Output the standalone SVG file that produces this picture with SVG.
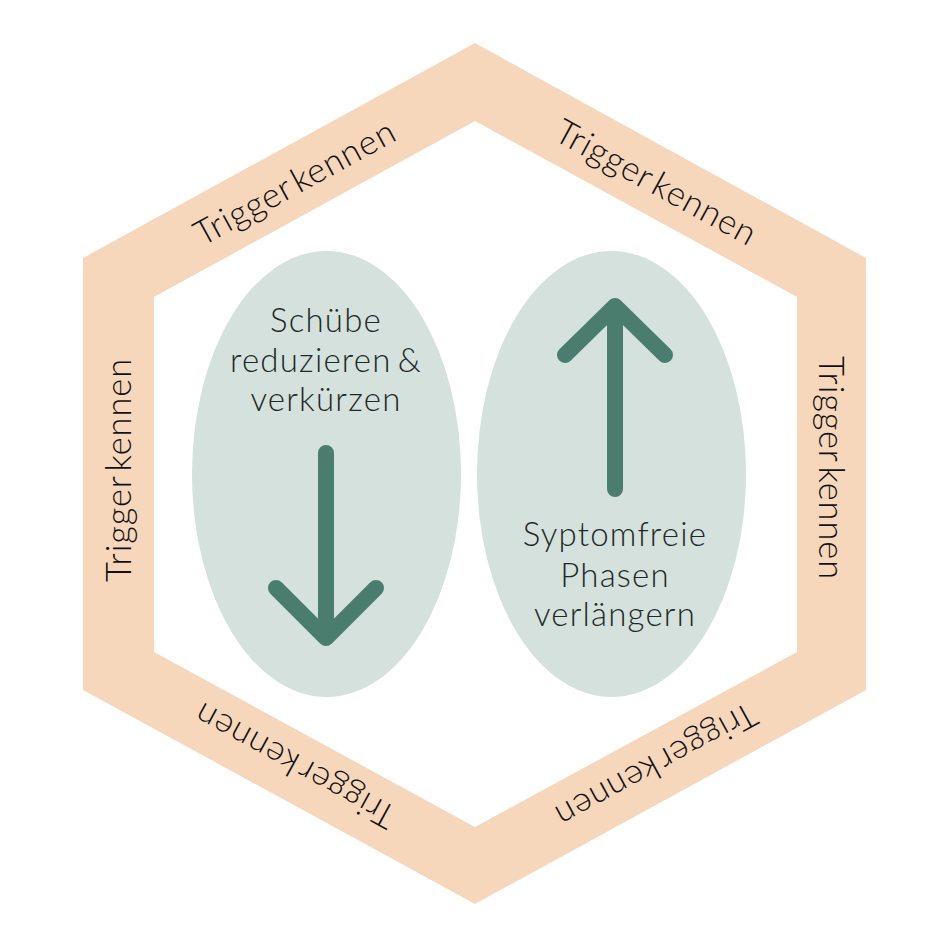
<svg xmlns="http://www.w3.org/2000/svg" width="950" height="938" viewBox="0 0 950 938">
<style>
.band{fill:#F7D7BB;fill-rule:evenodd}
.oval{fill:#D4E1DC}
.arrow{fill:none;stroke:#4B7D6F;stroke-width:16;stroke-linecap:round;stroke-linejoin:round}
.lbl{font-family:Lato,"Liberation Sans",sans-serif;font-weight:300;font-size:33px;fill:#1E2927;text-anchor:middle;word-spacing:-4px;letter-spacing:1.2px}
.edge{font-family:Lato,"Liberation Sans",sans-serif;font-weight:300;font-size:34.5px;fill:#111;text-anchor:middle;dominant-baseline:central;word-spacing:-6px;letter-spacing:0.9px}
</style>
<rect width="950" height="938" fill="#fff"/>
<g id="hexagon">
<path class="band" d="M475,43 L866,258 L866,690 L475,904 L83,690 L83,258 Z M475,121 L154,297 L154,652 L475,827 L797,652 L797,297 Z"/>
<text class="edge" transform="translate(294,181) rotate(-28.7)">Trigger kennen</text>
<text class="edge" transform="translate(657,181) rotate(28.7)">Trigger kennen</text>
<text class="edge" transform="translate(832,468) rotate(90)">Trigger kennen</text>
<text class="edge" transform="translate(117,470) rotate(-90)">Trigger kennen</text>
<text class="edge" transform="translate(294,767) rotate(-151.3)">Trigger kennen</text>
<text class="edge" transform="translate(657,767) rotate(151.3)">Trigger kennen</text>
</g>
<g id="node-reduce">
<ellipse class="oval" cx="326.5" cy="474" rx="134.5" ry="223"/>
<text class="lbl" x="326" y="332">Schübe</text>
<text class="lbl" x="326" y="372">reduzieren &amp;</text>
<text class="lbl" x="326" y="411">verkürzen</text>
</g>
<g id="node-extend">
<ellipse class="oval" cx="611.5" cy="474" rx="134.5" ry="223"/>
<text class="lbl" x="615" y="546">Syptomfreie</text>
<text class="lbl" x="615" y="587">Phasen</text>
<text class="lbl" x="615" y="626">verlängern</text>
</g>
<g id="connectors">
<path class="arrow" d="M326,453 L326,636 M276,588 L326,638 L376,588"/>
<path class="arrow" d="M615,489 L615,308 M565,355 L615,306 L665,355"/>
</g>
</svg>
